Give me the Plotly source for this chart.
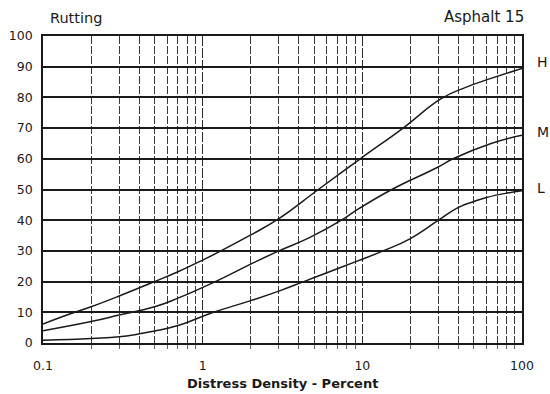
import plotly.graph_objects as go

# Data (Distress Density % vs. value)
h_x = [0.1, 0.15, 0.2, 0.3, 0.5, 0.7, 1.0, 1.3, 2, 3, 5.3, 9.7, 18, 31, 44, 64, 100]
h_y = [6.2, 9.6, 11.8, 15.3, 20, 23.2, 27.0, 30, 35.2, 40.5, 50, 60, 70, 79.5, 83.2, 86.2, 89.4]

m_x = [0.1, 0.2, 0.3, 0.5, 0.7, 1.2, 2, 3, 4.7, 7.4, 9.2, 15.3, 29, 37, 64, 100]
m_y = [4.0, 7.0, 9.1, 11.8, 14.6, 20, 25.7, 30, 34.4, 40, 43.3, 50, 57, 60, 65, 67.7]

l_x = [0.1, 0.2, 0.3, 0.5, 0.7, 1.17, 2, 3, 4.3, 6, 9.2, 13.5, 20, 30, 40, 50, 60, 80, 100]
l_y = [0.9, 1.5, 2.0, 3.9, 5.7, 10, 13.8, 16.9, 20, 22.9, 26.6, 30, 34, 40, 44.2, 46.1, 47.4, 48.8, 49.6]

series_names = ["H", "M", "L"]
label_shift = {"H": 7, "M": 3, "L": 3}
x_tickvals = [0.1, 1, 10, 100]
x_ticktext = ["0.1", "1", "10", "100"]
minor_vals = [m * d for d in (0.1, 1, 10) for m in range(2, 10)]
y_tickvals = list(range(0, 101, 10))

FONT = "DejaVu Sans"
INK = "#1a1a1a"

fig = go.Figure()
for name, xs, ys in zip(series_names, [h_x, m_x, l_x], [h_y, m_y, l_y]):
    fig.add_trace(go.Scatter(
        x=xs, y=ys, mode="lines", name=name,
        line=dict(color=INK, width=1.5, shape="spline", smoothing=1.3),
        showlegend=False, hoverinfo="skip",
    ))
    fig.add_annotation(
        x=1.0, xref="paper", xanchor="left", xshift=13,
        y=ys[-1], yref="y", yanchor="middle", yshift=label_shift[name],
        text=name, showarrow=False, font=dict(family=FONT, size=14, color=INK),
    )

fig.update_xaxes(
    type="log", range=[-1, 2], automargin=False,
    tickvals=x_tickvals, ticktext=x_ticktext,
    ticks="", ticklabelstandoff=10,
    showgrid=True, gridcolor="#2a2a2a", gridwidth=1.3, griddash="10px,2px",
    minor=dict(tickvals=minor_vals, showgrid=True, gridcolor="#3a3a3a",
               gridwidth=1.2, griddash="8px,2px", ticks="outside", ticklen=4,
               tickcolor="#666666", tickwidth=1),
    showline=True, mirror=True, linecolor=INK, linewidth=1.6,
    zeroline=False,
    tickfont=dict(family=FONT, size=12.5, color=INK),
)
fig.update_yaxes(
    range=[0, 100], tickvals=y_tickvals, automargin=False,
    ticks="", ticklabelstandoff=6,
    showgrid=True, gridcolor=INK, gridwidth=1.6,
    showline=True, mirror=True, linecolor=INK, linewidth=1.6,
    zeroline=False,
    tickfont=dict(family=FONT, size=12.5, color=INK),
)

fig.add_annotation(x=0.5, xref="paper", xanchor="center",
                   y=0, yref="paper", yanchor="middle", yshift=-40,
                   text="<b>Distress Density - Percent</b>", showarrow=False,
                   font=dict(family=FONT, size=13, color=INK))
fig.add_annotation(x=0, xref="paper", xanchor="left", xshift=5,
                   y=1, yref="paper", yanchor="bottom", yshift=8,
                   text="Rutting", showarrow=False,
                   font=dict(family=FONT, size=14.5, color=INK))
fig.add_annotation(x=1, xref="paper", xanchor="right", xshift=4,
                   y=1, yref="paper", yanchor="bottom", yshift=8,
                   text="Asphalt 15", showarrow=False,
                   font=dict(family=FONT, size=15, color=INK))

fig.update_layout(
    width=550, height=394,
    margin=dict(l=43, r=28, t=36, b=51),
    paper_bgcolor="white", plot_bgcolor="white",
    font=dict(family=FONT, color=INK),
)

fig.write_html("out.html")
